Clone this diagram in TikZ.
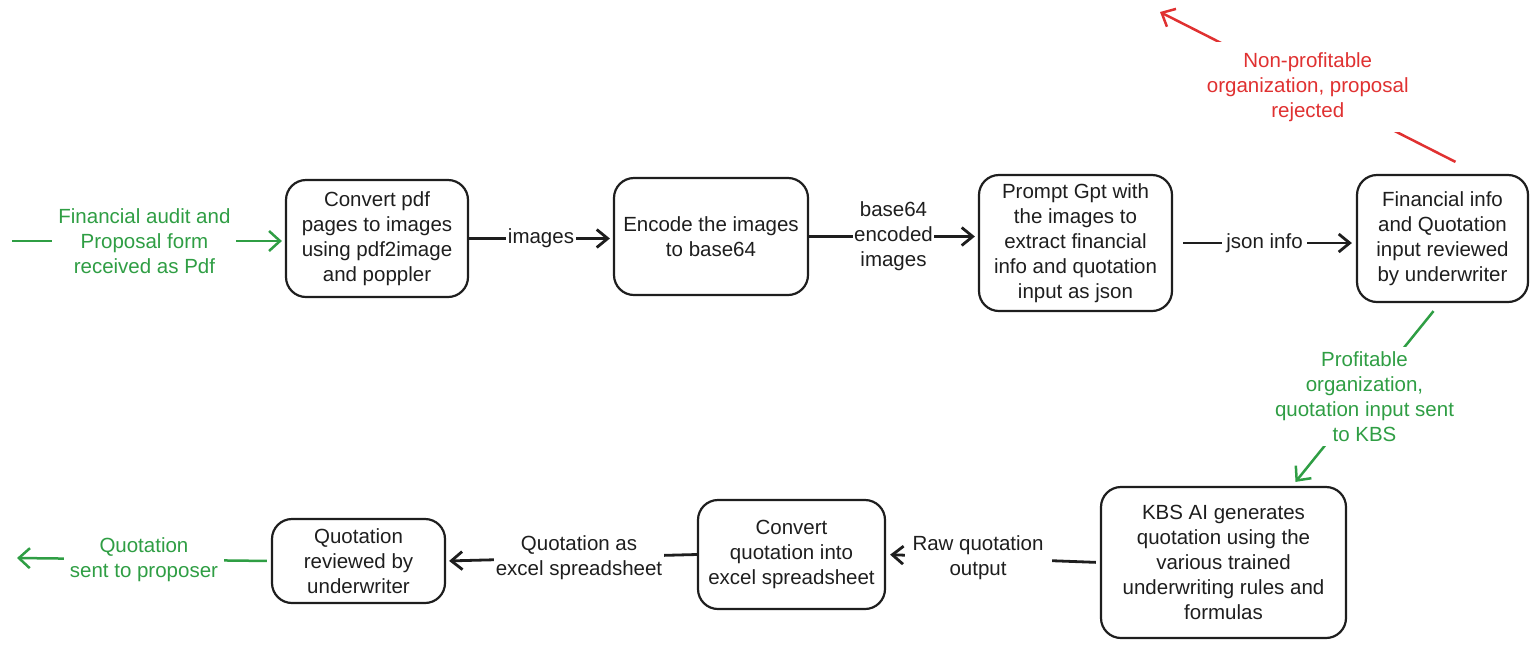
\documentclass[tikz,border=0pt]{standalone}
\usepackage{fontspec}
\setmainfont{Liberation Sans}
\usetikzlibrary{arrows.meta}
\definecolor{xgreen}{HTML}{2F9E44}
\definecolor{xred}{HTML}{E03131}
\definecolor{xink}{HTML}{1E1E1E}
\newcommand\dfont{\fontsize{20.5}{25}\selectfont}
\begin{document}
\begin{tikzpicture}[x=1pt,y=-1pt,
  box/.style={draw=xink, line width=2.2pt, rounded corners=20pt, align=center, inner sep=0pt, font=\dfont, text=xink},
  conn/.style={draw=xink, line width=2.8pt, -{Straight Barb[length=11pt,width=18pt]}},
  gconn/.style={draw=xgreen, line width=2.5pt, -{Straight Barb[length=11pt,width=20pt]}},
  rconn/.style={draw=xred, line width=2.5pt, -{Straight Barb[length=11pt,width=20pt]}},
  lab/.style={fill=white, inner sep=1.5pt, align=center, font=\dfont, text=xink},
  glab/.style={fill=white, inner xsep=6pt, inner ysep=4pt, align=center, font=\dfont, text=xgreen},
  rlab/.style={fill=white, inner xsep=8pt, inner ysep=10pt, align=center, font=\dfont, text=xred}]
\useasboundingbox (0,0) rectangle (1538,649);

\node[box, minimum width=182pt, minimum height=117pt] (b1) at (377,238.5) {Convert pdf\\pages to images\\using pdf2image\\and poppler};
\node[box, minimum width=194pt, minimum height=117pt] (b2) at (711,236.5) {Encode the images\\to base64};
\node[box, minimum width=193pt, minimum height=136pt] (b3) at (1075.5,243) {Prompt Gpt with\\the images to\\extract financial\\info and quotation\\input as json};
\node[box, minimum width=171pt, minimum height=127pt] (b4) at (1442.5,238.5) {Financial info\\and Quotation\\input reviewed\\by underwriter};
\node[box, minimum width=245pt, minimum height=151pt] (b5) at (1223.5,562.5) {KBS AI generates\\quotation using the\\various trained\\underwriting rules and\\formulas};
\node[box, minimum width=187pt, minimum height=109pt] (b6) at (791.5,554.5) {Convert\\quotation into\\excel spreadsheet};
\node[box, minimum width=173pt, minimum height=84pt] (b7) at (358.5,561) {Quotation\\reviewed by\\underwriter};

\coordinate (in) at (12,241);
\coordinate (rej) at (1160,12);
\coordinate (out) at (17,558);

\draw[gconn, shorten >=3pt] (in) -- node[glab, xshift=-4pt]{Financial audit and\\Proposal form\\received as Pdf} (in -| b1.west);
\draw[conn, shorten >=3pt] (b1.east) -- node[lab]{images} (b1.east -| b2.west);
\draw[conn, shorten >=3pt] (b2.east) -- node[lab]{base64\\encoded\\images} (b2.east -| b3.west);
\draw[conn, shorten <=10pt, shorten >=4pt] (b3.east) -- node[lab, inner xsep=4pt]{json info} (b3.east -| b4.west);
\draw[rconn] ([xshift=13pt,yshift=12pt]b4.north) -- node[rlab]{Non-profitable\\organization, proposal\\rejected} (rej);
\draw[gconn] ([xshift=-9pt,yshift=-8pt]b4.south) -- node[glab]{Profitable\\organization,\\quotation input sent\\to KBS} ([xshift=72pt,yshift=4pt]b5.north);
\draw[conn, shorten <=4pt, shorten >=4pt] (b5.west) -- node[lab, pos=0.57, inner xsep=8pt]{Raw quotation\\output} (b6.east);
\draw[conn, shorten >=3pt] (b6.west) -- node[lab, pos=0.47]{Quotation as\\excel spreadsheet} (b7.east);
\draw[gconn, shorten <=4pt] (b7.west) -- node[glab]{Quotation\\sent to proposer} (out);
\end{tikzpicture}
\end{document}
